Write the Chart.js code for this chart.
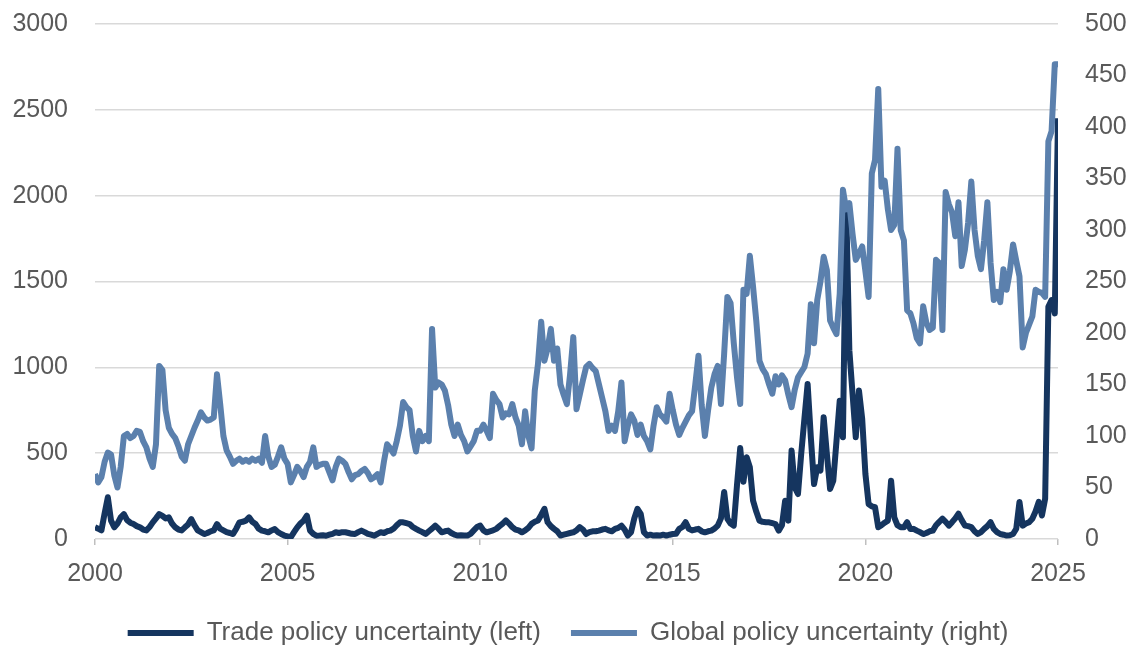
<!DOCTYPE html>
<html>
<head>
<meta charset="utf-8">
<script src="https://cdn.jsdelivr.net/npm/chart.js@4.4.1/dist/chart.umd.min.js"></script>
<style>
  html, body { margin: 0; padding: 0; background: #fff; }
  #wrap { width: 1136px; height: 656px; position: relative; }
</style>
</head>
<body>
<div id="wrap"><canvas id="chart"></canvas></div>
<script>
// monthly values, Jan 2000 .. Jan 2025
const trade2000s = [
  68, 60, 50, 150, 243, 107, 68, 90, 126, 145, 110, 95,
  87, 75, 68, 55, 50, 70, 97, 120, 145, 135, 120, 126,
  90, 68, 55, 50, 68, 85, 116, 80, 50, 40, 29, 35,
  45, 50, 87, 60, 50, 40, 35, 29, 60, 97, 100, 107,
  126, 100, 87, 60, 49, 45, 39, 50, 58, 40, 29, 20,
  15, 10, 40, 68, 90, 107, 136, 49, 30, 19, 20, 22,
  19, 25, 30, 39, 35, 40, 39, 35, 30, 29, 40, 49,
  40, 30, 25, 19, 30, 39, 35, 45, 49, 60, 80, 97,
  97, 92, 87, 70, 59, 49, 40, 29, 45, 60, 78, 60,
  39, 45, 49, 35, 25, 20, 22, 20, 20, 30, 50, 70
];
const trade2010s = [
  78, 50, 39, 45, 50, 59, 75, 90, 108, 90, 69, 55,
  50, 39, 50, 65, 88, 100, 108, 140, 176, 98, 75, 59,
  45, 20, 25, 30, 35, 39, 50, 69, 55, 29, 40, 45,
  45, 49, 55, 59, 50, 45, 59, 65, 78, 55, 20, 40,
  120, 176, 147, 40, 20, 25, 20, 22, 20, 25, 20, 25,
  29, 30, 59, 70, 98, 59, 50, 55, 59, 45, 39, 45,
  49, 60, 78, 120, 274, 118, 90, 78, 314, 530, 333, 476,
  418, 223, 160, 107, 100, 98, 97, 92, 87, 49, 80, 223,
  107, 515, 301, 262, 495, 700, 903, 593, 320, 418, 398, 709,
  495, 291, 340, 573, 806, 593, 1950, 1100, 845, 593, 865, 700
];
const trade2020s = [
  379, 204, 190, 185, 68, 80, 95, 107, 340, 126, 80, 68,
  68, 98, 58, 59, 49, 40, 29, 35, 45, 49, 80, 100,
  118, 100, 78, 98, 120, 147, 110, 78, 75, 69, 45, 29,
  40, 59, 75, 98, 59, 40, 29, 25, 20, 22, 29, 60,
  216, 78, 90, 98, 118, 160, 216, 137, 235, 1353, 1392, 1314,
  2451
];

const global2000s = [
  63, 55, 60, 75, 84, 82, 62, 50, 70, 100, 102, 98,
  100, 105, 104, 95, 89, 78, 70, 92, 168, 164, 125, 108,
  102, 98, 90, 80, 76, 92, 100, 108, 115, 123, 118, 115,
  116, 118, 160, 131, 100, 86, 80, 73, 76, 78, 75, 77,
  75, 78, 76, 78, 74, 100, 80, 70, 72, 80, 89, 78,
  73, 55, 62, 70, 66, 60, 70, 75, 89, 70, 72, 73,
  73, 65, 57, 70, 78, 76, 73, 65, 58, 62, 63, 66,
  68, 64, 58, 60, 63, 55, 75, 92, 88, 83, 95, 110,
  133, 128, 125, 100, 85, 105, 95, 100, 95, 204, 147, 152,
  150, 144, 130, 111, 100, 111, 101, 95, 85, 90, 95, 105
];
const global2010s = [
  105, 111, 105, 98, 141, 135, 131, 118, 122, 121, 131, 118,
  110, 92, 124, 100, 88, 144, 170, 211, 173, 185, 204, 173,
  185, 150, 140, 131, 160, 196, 126, 140, 154, 167, 170, 166,
  163, 150, 137, 124, 105, 110, 105, 124, 152, 95, 110, 121,
  115, 101, 111, 100, 95, 87, 110, 128, 121, 118, 114, 141,
  125, 111, 101, 108, 114, 120, 124, 150, 178, 130, 100, 125,
  147, 160, 168, 131, 180, 235, 229, 190, 157, 131, 242, 238,
  275, 245, 212, 173, 165, 160, 150, 141, 158, 150, 159, 154,
  140, 128, 145, 157, 162, 167, 180, 228, 190, 232, 250, 274,
  261, 212, 205, 199, 238, 339, 320, 326, 296, 271, 277, 284
];
const global2020s = [
  260, 235, 355, 368, 437, 342, 348, 320, 300, 305, 379, 300,
  290, 222, 219, 209, 195, 190, 226, 210, 203, 205, 271, 268,
  203, 337, 325, 317, 294, 327, 265, 281, 307, 347, 300, 275,
  262, 290, 327, 268, 232, 240, 230, 262, 242, 260, 286, 270,
  255, 186, 200, 208, 216, 242, 240, 239, 235, 386, 396, 461,
  461
];

const yearTicks = [2000, 2005, 2010, 2015, 2020, 2025];
const seriesNames = ['Trade policy uncertainty (left)', 'Global policy uncertainty (right)'];

const trade = [...trade2000s, ...trade2010s, ...trade2020s];
const globalPU = [...global2000s, ...global2010s, ...global2020s];
const toPoints = arr => arr.map((v, i) => ({ x: 2000 + i / 12, y: v }));

const tickFont = { family: "'Liberation Sans', Arial, sans-serif", size: 25 };
const grey = '#595959';

new Chart(document.getElementById('chart'), {
  type: 'line',
  data: {
    datasets: [{
      label: seriesNames[0],
      data: toPoints(trade),
      yAxisID: 'y',
      borderColor: '#15355f',
      backgroundColor: '#15355f',
      borderWidth: 6,
      order: 1
    }, {
      label: seriesNames[1],
      data: toPoints(globalPU),
      yAxisID: 'y2',
      borderColor: '#5b80ad',
      backgroundColor: '#5b80ad',
      borderWidth: 6,
      order: 0
    }]
  },
  options: {
    responsive: true,
    maintainAspectRatio: false,
    animation: false,
    layout: { padding: 0 },
    elements: {
      point: { radius: 0 },
      line: { tension: 0, borderJoinStyle: 'round', fill: false }
    },
    scales: {
      x: {
        type: 'linear',
        min: 2000,
        max: 2000 + (trade.length - 1) / 12,
        afterBuildTicks: s => { s.ticks = yearTicks.map(v => ({ value: v })); },
        afterFit: s => { s.height = 51; },
        ticks: { color: grey, font: tickFont, padding: 14, maxRotation: 0, autoSkip: false, callback: v => String(v) },
        grid: { drawOnChartArea: false, drawTicks: true, tickLength: 6, color: '#bfbfbf', lineWidth: 1.5 },
        border: { display: false }
      },
      y: {
        position: 'left',
        min: 0, max: 3000,
        afterFit: s => { s.width = 95; s.paddingTop = 24; },
        ticks: { stepSize: 500, color: grey, font: tickFont, padding: 27, callback: v => String(v) },
        grid: { color: '#d9d9d9', lineWidth: 1.5, drawTicks: false },
        border: { display: false }
      },
      y2: {
        position: 'right',
        min: 0, max: 500,
        afterFit: s => { s.width = 78; s.paddingTop = 24; },
        ticks: { stepSize: 50, color: grey, font: tickFont, padding: 27, callback: v => String(v) },
        grid: { drawOnChartArea: false, drawTicks: false },
        border: { display: false }
      }
    },
    plugins: {
      legend: {
        position: 'bottom',
        labels: {
          color: grey,
          font: { family: "'Liberation Sans', Arial, sans-serif", size: 26 },
          usePointStyle: true,
          pointStyle: 'line',
          pointStyleWidth: 66,
          padding: 30,
          sort: (a, b) => a.datasetIndex - b.datasetIndex
        }
      },
      tooltip: { enabled: false }
    }
  }
});
</script>
</body>
</html>
